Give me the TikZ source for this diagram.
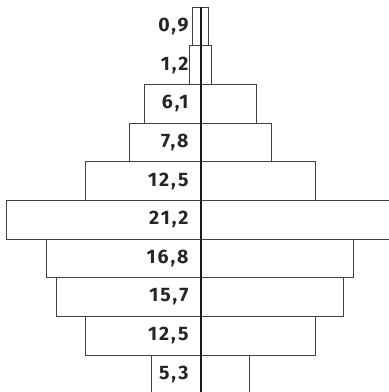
\documentclass[tikz,border=0pt]{standalone}
\usepackage{fontspec}
\setmainfont{Fira Sans}
\newfontfamily\valfont[LetterSpace=10]{Fira Sans}
\begin{document}
\begin{tikzpicture}[x=1pt,y=1pt,
  bar/.style={draw=black!75,line width=0.9pt},
  axis/.style={draw=black!90,line width=1.4pt},
  val/.style={anchor=east,inner sep=0pt,font=\valfont\fontsize{19.5}{19.5}\bfseries\selectfont,text=black!85}]
\useasboundingbox (0,0) rectangle (389,392);
\clip (0,0) rectangle (389,392);
\def\rh{38.67}
% rows: index, left, right, label
\foreach \i/\l/\r/\t in {0/192.3/208.7/{0,9},1/189.3/211/{1,2},2/144/256.3/{6,1},3/129.3/271.3/{7,8},4/85.3/315/{12,5},5/6.7/396/{21,2},6/46.7/353.3/{16,8},7/56.7/343.7/{15,7},8/85.7/315/{12,5},9/151.7/249/{5,3}}{
  \pgfmathsetmacro\yt{392-7-\rh*\i}
  \pgfmathsetmacro\yb{\yt-\rh}
  \pgfmathsetmacro\ym{\yt-\rh/2}
  \draw[bar] (\l,\yb) rectangle (\r,\yt);
  \node[val] (v\i) at (188.7,\ym) {\t};
}
\coordinate (top) at (201,385);
\coordinate (bot) at (201,-2);
\draw[axis] (top) -- (bot);
\end{tikzpicture}
\end{document}
